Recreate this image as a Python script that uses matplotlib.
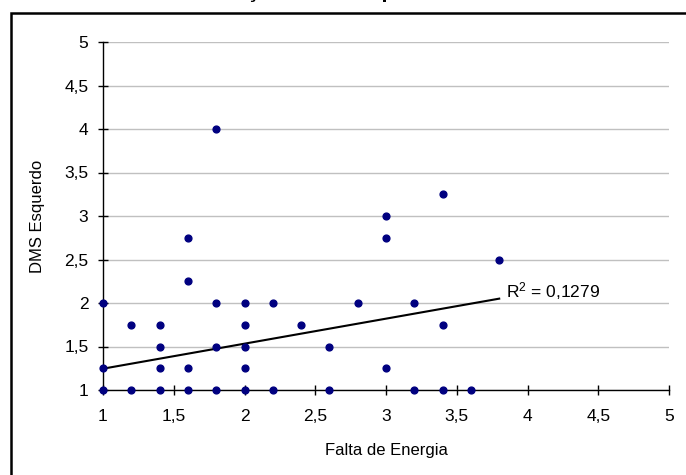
import matplotlib
matplotlib.use('Agg')
import matplotlib.pyplot as plt
from matplotlib.patches import Rectangle
import numpy as np

plt.rcParams['font.family'] = ['Liberation Sans', 'DejaVu Sans']
plt.rcParams['mathtext.fontset'] = 'custom'
plt.rcParams['mathtext.rm'] = 'Liberation Sans'
plt.rcParams['mathtext.default'] = 'regular'

# pontos (Falta de Energia, DMS Esquerdo)
falta = [1, 1, 1, 1.2, 1.2, 1.4, 1.4, 1.4, 1.4, 1.6, 1.6, 1.6, 1.6,
         1.8, 1.8, 1.8, 1.8, 2, 2, 2, 2, 2, 2.2, 2.2, 2.4, 2.6, 2.6,
         2.8, 3, 3, 3, 3.2, 3.2, 3.4, 3.4, 3.4, 3.6, 3.8]
dms = [2, 1.25, 1, 1.75, 1, 1.75, 1.5, 1.25, 1, 2.75, 2.25, 1.25, 1,
       4, 2, 1.5, 1, 2, 1.75, 1.5, 1.25, 1, 2, 1, 1.75, 1.5, 1,
       2, 3, 2.75, 1.25, 2, 1, 3.25, 1.75, 1, 1, 2.5]

# linha de tendencia
trend_x = [1, 3.8]
trend_y = [1.245, 2.05]
r2_label = 'R$^{2}$ = 0,1279'

ticks = [1, 1.5, 2, 2.5, 3, 3.5, 4, 4.5, 5]
tick_labels = ['1', '1,5', '2', '2,5', '3', '3,5', '4', '4,5', '5']

titulo = 'Correlação DMS Esquerdo'

fig = plt.figure(figsize=(6.86, 4.75), dpi=100)
W, H = 686, 475

# moldura do grafico (cortada a direita e embaixo)
fig.patches.append(Rectangle((10.5 / W, -0.1), 1.2, (H - 13.5) / H + 0.1,
                             transform=fig.transFigure, fill=False,
                             edgecolor='black', linewidth=1.8))

# titulo cortado no topo (so as pernas das letras aparecem)
fig.text(169 / W, (H + 3) / H, titulo, fontsize=16, fontweight='bold',
         ha='left', va='baseline')

ax = fig.add_axes([103 / W, 85 / H, 566 / W, 348 / H])
ax.set_xlim(1, 5)
ax.set_ylim(1, 5)

ax.set_yticks(ticks)
ax.set_xticks(ticks)
ax.set_yticklabels(tick_labels)
ax.set_xticklabels(tick_labels)
ax.yaxis.grid(True, color='#c0c0c0', linewidth=1)
ax.set_axisbelow(True)

for s in ['top', 'right']:
    ax.spines[s].set_visible(False)
for s in ['left', 'bottom']:
    ax.spines[s].set_linewidth(1)

ax.tick_params(axis='y', direction='inout', length=7, width=1, pad=7, labelsize=12.5)
ax.tick_params(axis='x', direction='inout', length=7, width=1, pad=10, labelsize=12.5)

ax.plot(trend_x, trend_y, color='black', linewidth=1.5, zorder=3)
ax.scatter(falta, dms, s=24, color='#000080', zorder=4, clip_on=False)

ax.text(3.85, 2.07, r2_label, fontsize=12.5, ha='left', va='baseline')

ax.set_xlabel('Falta de Energia', fontsize=12, labelpad=14)
ax.set_ylabel('DMS Esquerdo', fontsize=12, labelpad=14)

fig.savefig('out.png', dpi=100)
